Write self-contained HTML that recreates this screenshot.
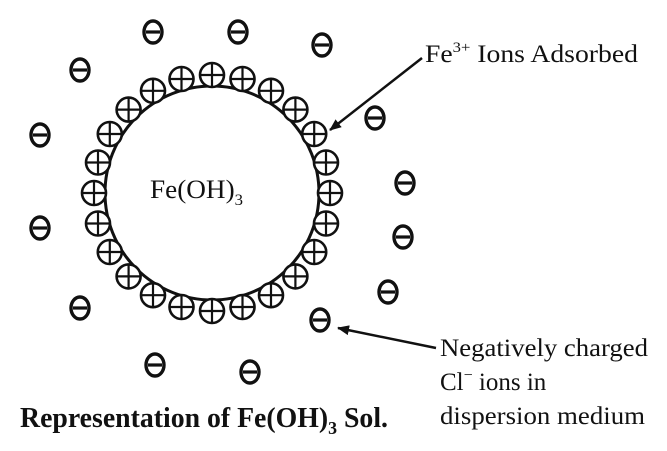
<!DOCTYPE html>
<html><head><meta charset="utf-8"><style>
html,body{margin:0;padding:0;background:#fff;}
svg{display:block;}
text{font-family:"Liberation Serif",serif;fill:#111;}
</style></head><body>
<svg width="667" height="451" viewBox="0 0 667 451" xmlns="http://www.w3.org/2000/svg">
<defs>
<g id="p"><circle r="12" fill="#fff" stroke="#111" stroke-width="2.6"/><line x1="-11.5" y1="0" x2="11.5" y2="0" stroke="#111" stroke-width="2.2"/><line x1="0" y1="-11.5" x2="0" y2="11.5" stroke="#111" stroke-width="2.2"/></g>
<g id="m"><ellipse rx="9" ry="11" fill="#fff" stroke="#111" stroke-width="3.4"/><line x1="-7" y1="0" x2="7" y2="0" stroke="#111" stroke-width="3.2"/></g>
<marker id="ah" markerWidth="12" markerHeight="10" refX="11" refY="5" orient="auto" markerUnits="userSpaceOnUse" viewBox="0 0 12 10"><path d="M0,0 L12,5 L0,10 Z" fill="#111"/></marker>
</defs>
<circle cx="212" cy="193" r="107" fill="none" stroke="#111" stroke-width="3"/>
<g>
<use href="#p" x="212" y="75"/><use href="#p" x="242.5" y="79"/><use href="#p" x="271" y="90.8"/><use href="#p" x="295.4" y="109.6"/><use href="#p" x="314.2" y="134"/><use href="#p" x="326" y="162.5"/><use href="#p" x="330" y="193"/><use href="#p" x="326" y="223.5"/><use href="#p" x="314.2" y="252"/><use href="#p" x="295.4" y="276.4"/><use href="#p" x="271" y="295.2"/><use href="#p" x="242.5" y="307"/><use href="#p" x="212" y="311"/>
<use href="#p" x="181.5" y="79"/><use href="#p" x="153" y="90.8"/><use href="#p" x="128.6" y="109.6"/><use href="#p" x="109.8" y="134"/><use href="#p" x="98" y="162.5"/><use href="#p" x="94" y="193"/><use href="#p" x="98" y="223.5"/><use href="#p" x="109.8" y="252"/><use href="#p" x="128.6" y="276.4"/><use href="#p" x="153" y="295.2"/><use href="#p" x="181.5" y="307"/>
</g>
<g>
<use href="#m" x="153" y="32"/><use href="#m" x="238" y="32"/><use href="#m" x="322" y="45"/><use href="#m" x="80" y="70"/><use href="#m" x="375" y="118"/><use href="#m" x="40" y="135"/><use href="#m" x="405" y="183"/><use href="#m" x="40" y="228"/><use href="#m" x="403" y="237"/><use href="#m" x="388" y="292"/><use href="#m" x="80" y="308"/><use href="#m" x="320" y="320"/><use href="#m" x="155" y="365"/><use href="#m" x="250" y="372"/>
</g>
<line x1="422" y1="58" x2="330" y2="130" stroke="#111" stroke-width="2.5" marker-end="url(#ah)"/>
<line x1="436" y1="348" x2="338" y2="328" stroke="#111" stroke-width="2.5" marker-end="url(#ah)"/>
<text x="150" y="198" font-size="26" textLength="93" lengthAdjust="spacingAndGlyphs">Fe(OH)<tspan font-size="16" dy="7">3</tspan></text>
<text x="425" y="62" font-size="25" textLength="213" lengthAdjust="spacingAndGlyphs">Fe<tspan font-size="15" dy="-10">3+</tspan><tspan dy="10"> Ions Adsorbed</tspan></text>
<text x="440" y="356" font-size="25" textLength="208" lengthAdjust="spacingAndGlyphs">Negatively charged</text>
<text x="440" y="390" font-size="25">Cl<tspan font-size="16" dy="-10">−</tspan><tspan dy="10"> ions in</tspan></text>
<text x="440" y="424" font-size="25" textLength="205" lengthAdjust="spacingAndGlyphs">dispersion medium</text>
<text x="20" y="427" font-size="28" font-weight="bold" textLength="368" lengthAdjust="spacingAndGlyphs">Representation of Fe(OH)<tspan font-size="18" dy="7">3</tspan><tspan dy="-7"> Sol.</tspan></text>
</svg>
</body></html>
